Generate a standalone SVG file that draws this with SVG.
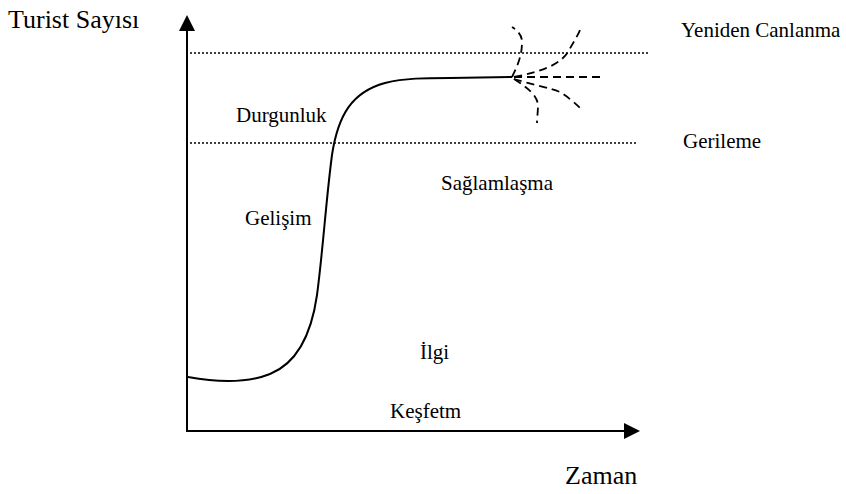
<svg xmlns="http://www.w3.org/2000/svg" width="846" height="494" viewBox="0 0 846 494">
<style>
text{font-family:"Liberation Serif","Times New Roman",serif;fill:#000}
.lbl{font-size:21px}
.big{font-size:26px}
.axis{stroke:#000;stroke-width:2;fill:none}
.dot{stroke:#000;stroke-width:1.5;stroke-dasharray:2,2;fill:none}
.curve{stroke:#000;stroke-width:2;fill:none}
.dash{stroke:#000;stroke-width:1.8;stroke-dasharray:8,5;fill:none}
</style>
<rect width="846" height="494" fill="#fff"/>
<g id="axes">
<line class="axis" x1="187" y1="432" x2="187" y2="28"/>
<polygon points="187,15 179,31 195,31" fill="#000"/>
<line class="axis" x1="186" y1="431" x2="626" y2="431"/>
<polygon points="640,431 624,423 624,439" fill="#000"/>
</g>
<g id="levels">
<line class="dot" x1="190" y1="53" x2="648" y2="53"/>
<line class="dot" x1="190" y1="143" x2="637" y2="143"/>
</g>
<g id="connectors">
<path class="curve" d="M188,377 C215,382 245,384 270,374 C300,362 312,330 317,295 C323,250 326,200 332,155 C338,115 352,92 385,83 C405,78 425,78 450,78 L512,77"/>
<path class="dash" d="M512,77 C518,65 522,55 522,42 C522,35 518,31 512,27"/>
<path class="dash" d="M514,77 C540,72 560,65 568,52 C573,43 577,37 580,30"/>
<path class="dash" d="M514,77 L602,77"/>
<path class="dash" d="M514,79 C530,84 550,88 560,92 C568,97 575,103 580,108"/>
<path class="dash" d="M514,79 C528,88 537,95 538,105 C538,112 537,118 537,123"/>
</g>
<g id="labels">
<text class="big" x="8" y="28">Turist Sayısı</text>
<text class="big" x="565" y="484">Zaman</text>
<text class="lbl" x="681" y="37">Yeniden Canlanma</text>
<text class="lbl" x="683" y="148">Gerileme</text>
<text class="lbl" x="236" y="122">Durgunluk</text>
<text class="lbl" x="245" y="225">Gelişim</text>
<text class="lbl" x="441" y="190">Sağlamlaşma</text>
<text class="lbl" x="420" y="359">İlgi</text>
<text class="lbl" x="390" y="418">Keşfetm</text>
</g>
</svg>
